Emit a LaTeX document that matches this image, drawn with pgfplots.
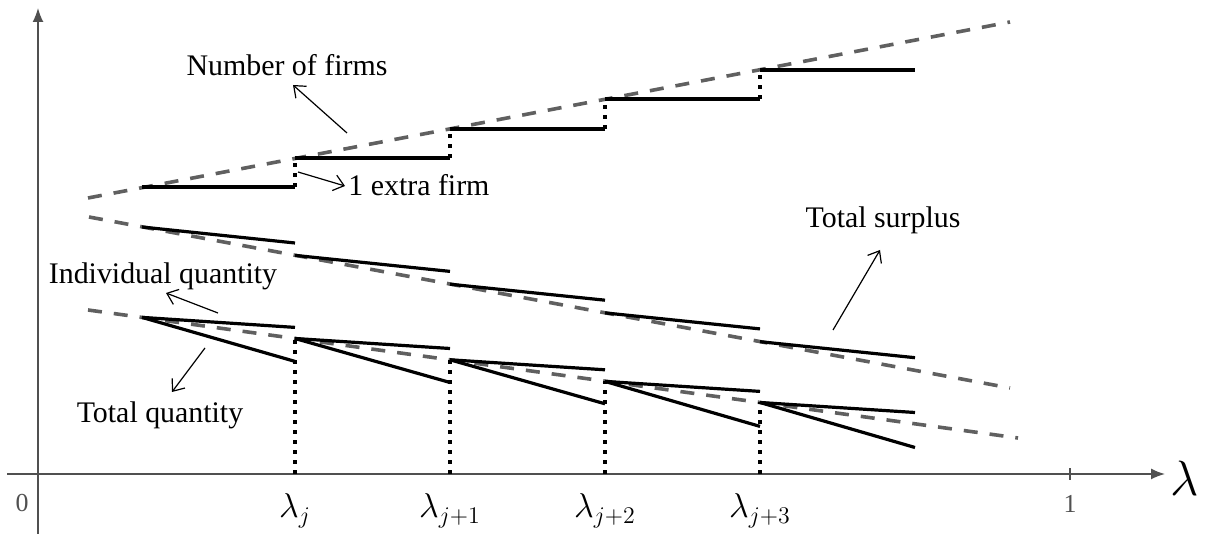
\documentclass[border=0pt]{standalone}
\usepackage{fontspec}
\setmainfont{Liberation Serif}
\usepackage{pgfplots}
\pgfplotsset{compat=1.18}
\usetikzlibrary{arrows.meta}
\definecolor{dashgray}{HTML}{606060}
\definecolor{axisgray}{HTML}{505050}

\begin{document}
\begin{tikzpicture}
\begin{axis}[
    x=0.5bp, y=0.5bp,
    xmin=-31, xmax=1127,
    ymin=-60, ymax=466,
    axis lines=middle,
    axis line style={axisgray, line width=0.8bp, -{Latex[length=7bp,width=5.5bp]}},
    xtick={1032}, xticklabels={1},
    ytick=\empty,
    extra x ticks={257,412,567,722},
    extra x tick labels={$\lambda_j$,$\lambda_{j+1}$,$\lambda_{j+2}$,$\lambda_{j+3}$},
    extra x tick style={major tick length=0pt,
        xticklabel style={font=\fontsize{17}{20}\selectfont, text=black, yshift=-2.5bp}},
    tick style={axisgray, line width=0.6bp},
    major tick length=6bp,
    tick align=center,
    xticklabel style={font=\fontsize{13}{15}\selectfont, text=axisgray, yshift=-4bp},
    xlabel={$\lambda$},
    xlabel style={font=\fontsize{26}{30}\selectfont,
        at={(axis description cs:1.0173,0.1065)}, anchor=center},
    clip=false,
    unbounded coords=jump,
    font=\fontsize{15}{18}\selectfont,
]
\path (axis cs:-38,-60) rectangle (axis cs:1171,474);

% dashed reference curves
\pgfplotsset{ref/.style={dashgray, line width=1.8bp, dash pattern=on 7bp off 6bp}}
\addplot[ref] coordinates {(50,276) (972,452)};   % number of firms
\addplot[ref] coordinates {(51,257) (972,86)};    % total surplus
\addplot[ref] coordinates {(50,164) (980,36)};    % quantity

\pgfplotsset{seg/.style={black, line width=1.6bp}}
% number of firms: steps
\addplot[seg] coordinates {
    (104,287) (257,287) (nan,nan)
    (257,316) (412,316) (nan,nan)
    (412,345) (567,345) (nan,nan)
    (567,375) (722,375) (nan,nan)
    (722,404) (877,404)
};
% total surplus
\addplot[seg] coordinates {
    (104,247) (257,231) (nan,nan)
    (257,218.6) (412,202.6) (nan,nan)
    (412,189.8) (567,173.8) (nan,nan)
    (567,161.1) (722,145.1) (nan,nan)
    (722,132.3) (877,116.3)
};
% individual quantity
\addplot[seg] coordinates {
    (104,156.6) (257,146.6) (nan,nan)
    (257,135.5) (412,125.5) (nan,nan)
    (412,114.2) (567,104.2) (nan,nan)
    (567,92.6) (722,82.6) (nan,nan)
    (722,71.5) (877,61.5)
};
% total quantity
\addplot[seg] coordinates {
    (104,156.6) (257,112.6) (nan,nan)
    (257,135.5) (412,91.5) (nan,nan)
    (412,114.2) (567,70.2) (nan,nan)
    (567,92.6) (722,47.6) (nan,nan)
    (722,71.5) (877,26.5)
};

% dotted verticals
\pgfplotsset{dots/.style={black, line width=1.8bp, dash pattern=on 1.8bp off 3.2bp}}
\addplot[dots] coordinates {
    (257,0) (257,135.5) (nan,nan)
    (412,0) (412,114.2) (nan,nan)
    (567,0) (567,92.6) (nan,nan)
    (722,0) (722,71.5)
};
\addplot[dots] coordinates {
    (257,287) (257,316) (nan,nan)
    (412,316) (412,345) (nan,nan)
    (567,345) (567,375) (nan,nan)
    (722,375) (722,404)
};

% annotations
\pgfplotsset{annot/.style={black, line width=0.6bp, -{Straight Barb[length=5bp,width=8bp]}}}
\addplot[annot] coordinates {(309,341) (255,389)};
\addplot[annot] coordinates {(260,302) (307,288)};
\addplot[annot] coordinates {(795,144) (842,224)};
\addplot[annot] coordinates {(180,161) (128,181)};
\addplot[annot] coordinates {(167,126) (134,82)};

\node at (axis cs:249,409) {Number of firms};
\node[anchor=west, inner sep=0pt] at (axis cs:310,289) {1 extra firm};
\node at (axis cs:845,254) {Total surplus};
\node at (axis cs:125,198) {Individual quantity};
\node at (axis cs:122,59) {Total quantity};
\node[font=\fontsize{13}{15}\selectfont, text=axisgray] at (axis cs:-16,-29) {0};
\end{axis}
\end{tikzpicture}
\end{document}
